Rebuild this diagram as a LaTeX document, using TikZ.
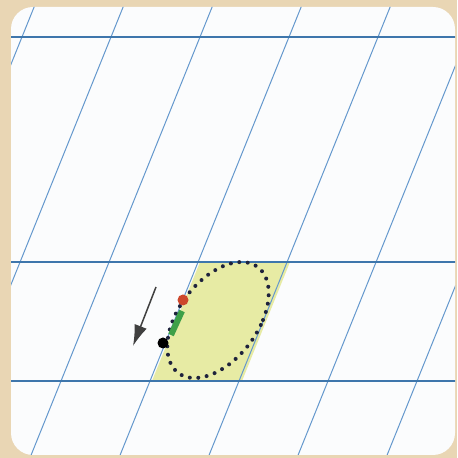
\documentclass[tikz,border=0pt]{standalone}
\usetikzlibrary{calc,arrows.meta}
\definecolor{paper}{RGB}{233,214,180}
\definecolor{card}{RGB}{251,252,253}
\definecolor{ruleblue}{RGB}{62,118,172}
\definecolor{slantblue}{RGB}{100,152,205}
\definecolor{cellyellow}{RGB}{231,235,164}
\definecolor{dotred}{RGB}{205,72,45}
\definecolor{strokegreen}{RGB}{62,160,72}
\definecolor{dotnavy}{RGB}{30,34,60}

\begin{document}
\begin{tikzpicture}[x=0.01cm,y=0.01cm,
    ruleline/.style={ruleblue, line width=0.18mm},
    slantline/.style={slantblue, line width=0.1mm},
    dotline/.style={dotnavy, line width=0.4mm, line cap=round, dash pattern=on 0pt off 0.85mm},
    arrowline/.style={black!75, line width=0.15mm, -{Latex[length=2.1mm,width=1.3mm]}}]
    \useasboundingbox (0,0) rectangle (457,458);
    % Paper and card
    \fill[paper] (0,0) rectangle (457,458);
    \fill[card, rounded corners=2.2mm] (11,3) rectangle (455,451);

    \begin{scope}
    \clip[rounded corners=2.2mm] (11,3) rectangle (455,451);
    % Yellow cell
    \coordinate (CellTL) at (200,196);
    \coordinate (CellTR) at ($(CellTL)+(90,0)$);
    \coordinate (CellBR) at ($(CellTR)+(-48,-119)$);
    \coordinate (CellBL) at ($(CellTL)+(-48,-119)$);
    \fill[cellyellow] (CellTL) -- (CellTR) -- (CellBR) -- (CellBL) -- cycle;

    % Slanted guide lines
    \foreach \x in {22,111,200,289,378,467,556}
        \draw[slantline] ($(\x,421)+(-200,-495)$) -- ($(\x,421)+(20,49.5)$);

    % Writing lines
    \foreach \y in {421,196,77}
        \draw[ruleline] (0,\y) -- (457,\y);
    \end{scope}

    % Dotted letter o
    \draw[dotline, shift={(218,138)}, xslant=0.404] (0,0) ellipse [x radius=45, y radius=58];

    % Start, stroke and end
    \coordinate (RedDot) at (183,158);
    \coordinate (GreenTop) at (182,147);
    \coordinate (GreenBot) at (171,123);
    \coordinate (BlackDot) at (163,115);
    \draw[strokegreen, line width=0.6mm] (GreenTop) -- (GreenBot);
    \fill[dotred] (RedDot) circle (5.5);
    \fill[black] (BlackDot) circle (5.5);

    % Direction arrow
    \coordinate (ArrowTail) at (156,171);
    \coordinate (ArrowHead) at (133,112);
    \draw[arrowline] (ArrowTail) -- (ArrowHead);
\end{tikzpicture}
\end{document}
